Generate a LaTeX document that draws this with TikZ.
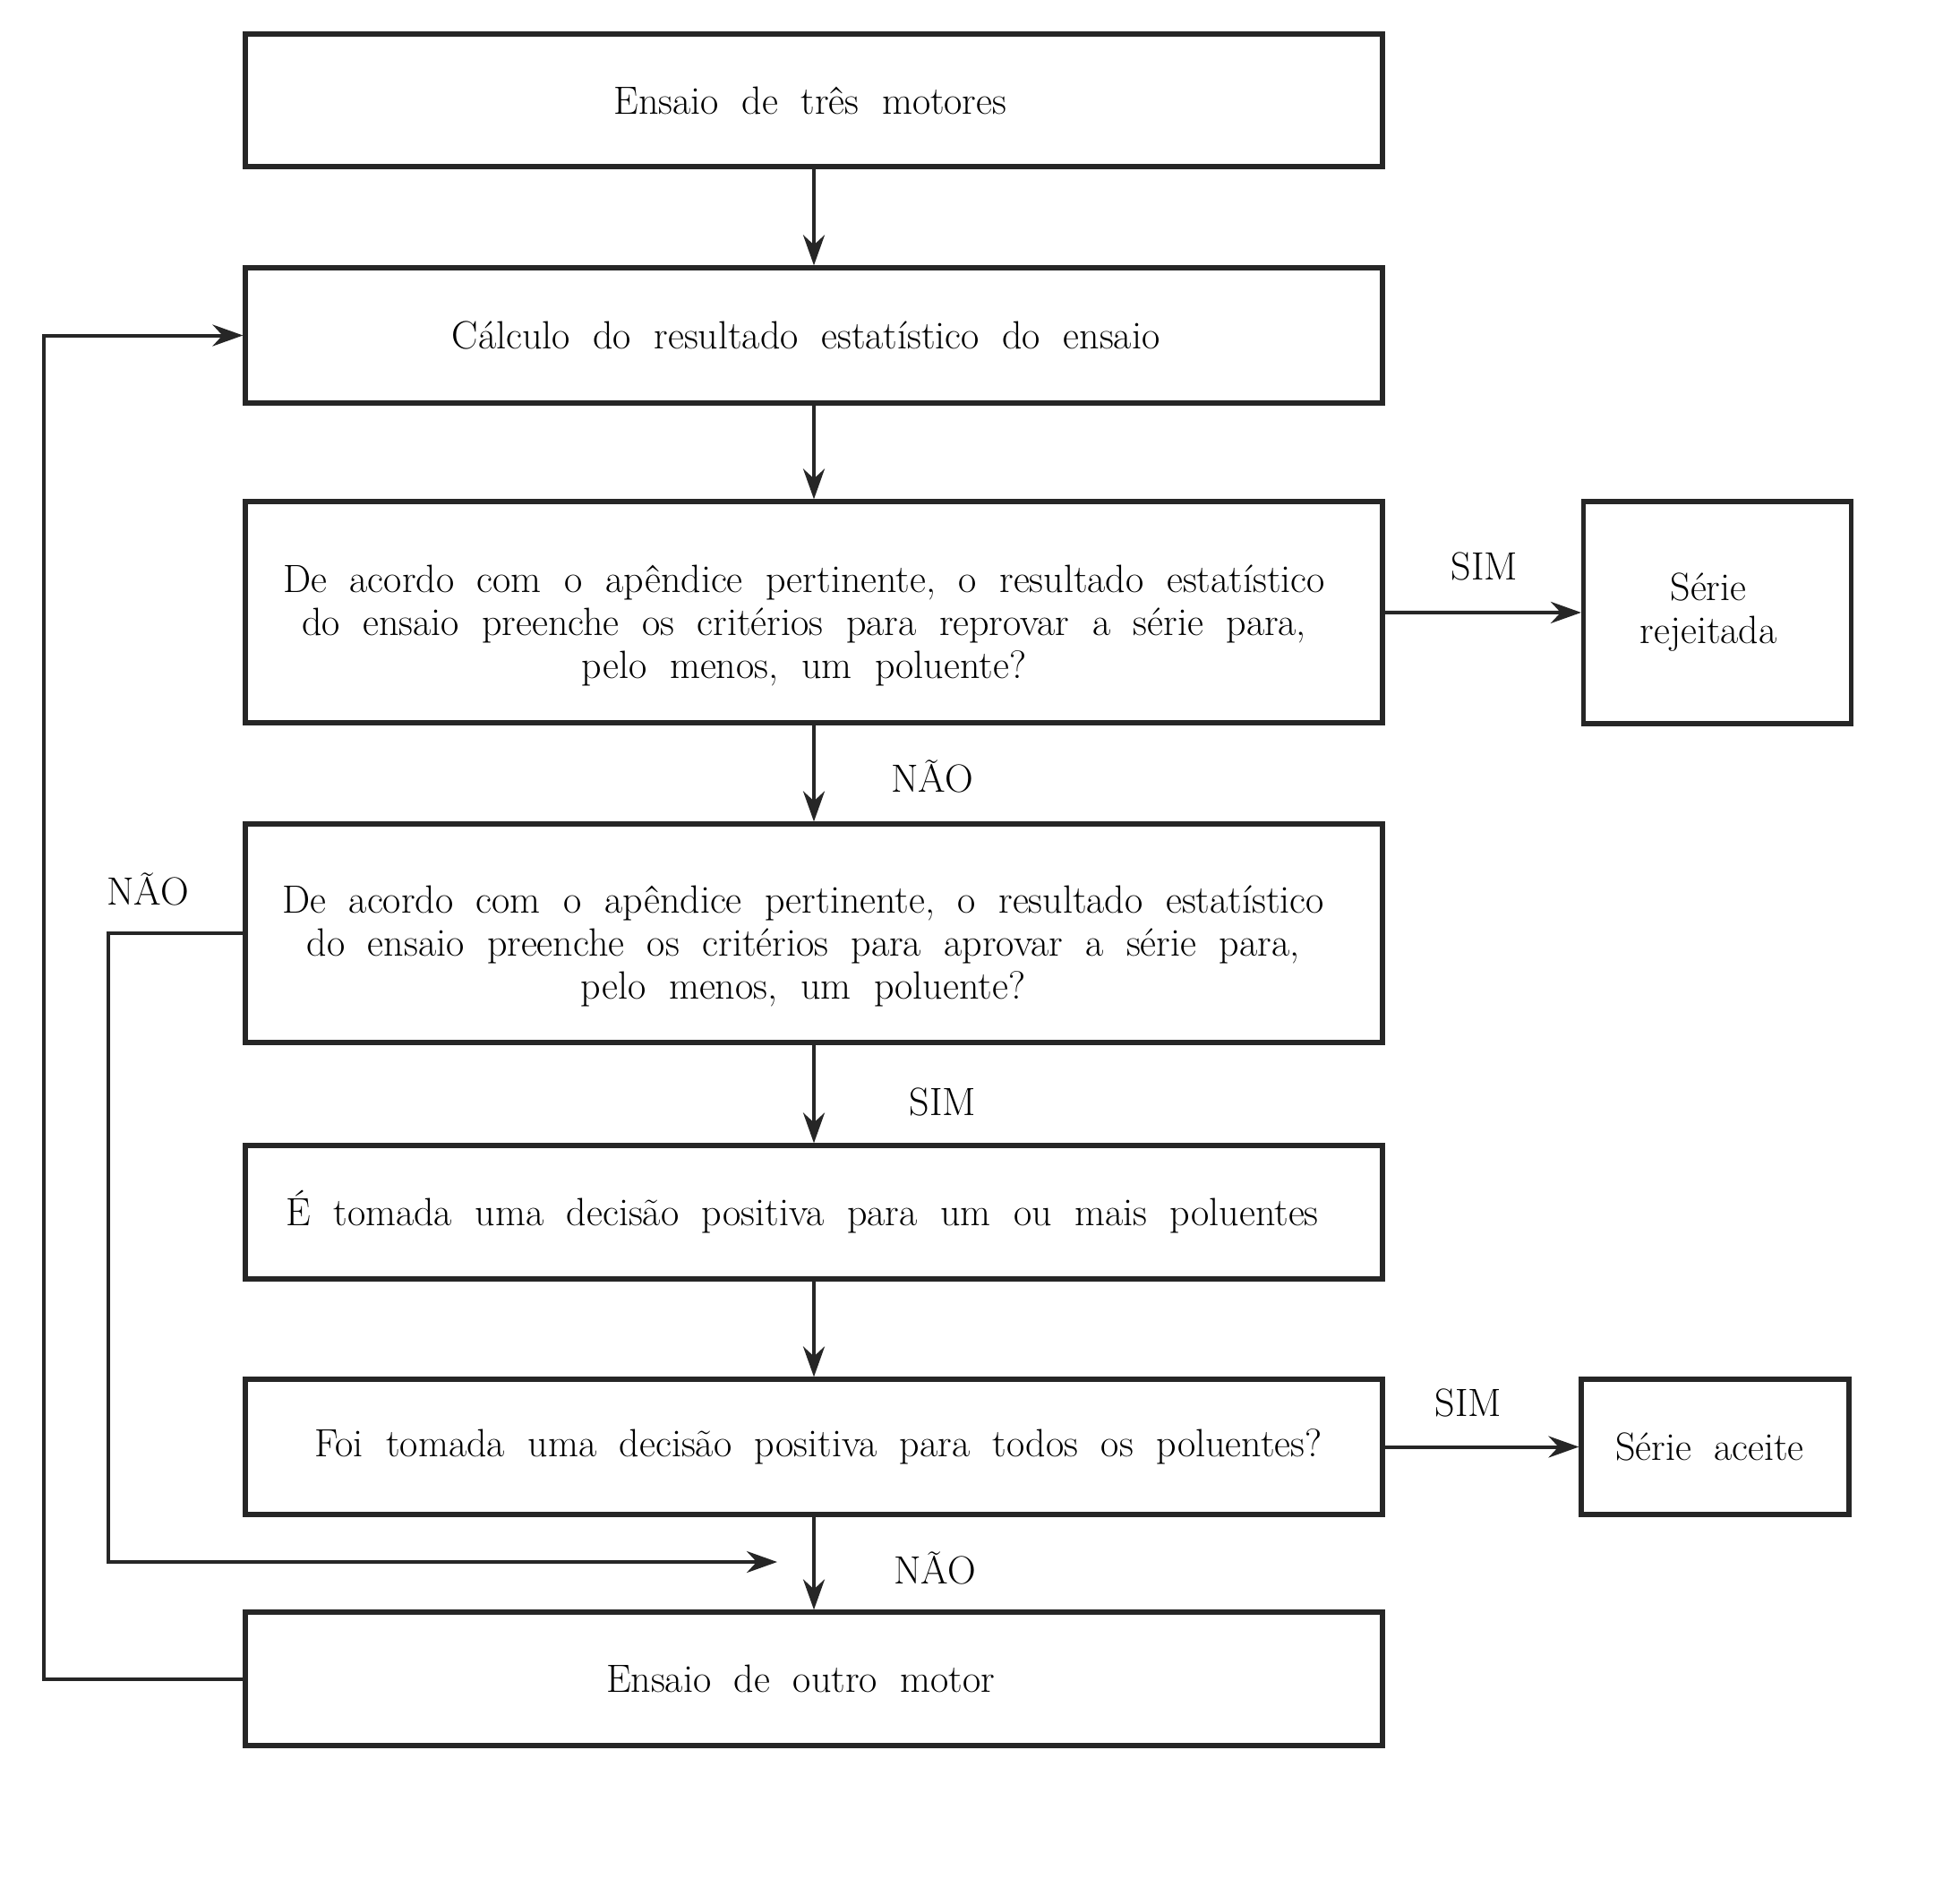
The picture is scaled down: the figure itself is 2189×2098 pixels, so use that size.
\documentclass[tikz,border=0pt]{standalone}
\usepackage{fontspec}
\usetikzlibrary{arrows.meta}
\newcommand{\diagfont}{\fontsize{22}{24}\selectfont}
\newcommand{\widesp}{\spaceskip=12.8pt plus 3pt minus 1pt\relax}
\newcommand{\sh}[1]{\hspace*{#1}}
\begin{document}
\begin{tikzpicture}[x=0.5pt,y=-0.5pt,
  every node/.style={font=\diagfont},
  box/.style={draw=black!85, line width=2.6pt, minimum width=635pt, align=center, inner sep=0pt},
  sidebox/.style={draw=black!85, line width=2.6pt, minimum width=149.5pt, align=center, inner sep=0pt},
  conn/.style={draw=black!85, line width=2pt, -{Stealth[length=17pt,width=12pt]}},
  lbl/.style={inner sep=0pt}]
\fill[white] (0,0) rectangle (2189,2098);
\useasboundingbox (0,0) rectangle (2189,2098);

\node[box, minimum height=74pt] (b1) at (909,112) {\widesp\sh{-4pt}Ensaio de três motores};
\node[box, minimum height=75.5pt] (b2) at (909,374.5) {\widesp\sh{-9pt}Cálculo do resultado estatístico do ensaio};
\node[box, minimum height=123.5pt] (b3) at (909,683.5) {\widesp\sh{-11pt}\rule{0pt}{30pt}De acordo com o apêndice pertinente, o resultado estatístico\\\widesp\sh{-11pt}do ensaio preenche os critérios para reprovar a série para,\\\widesp\sh{-11pt}pelo menos, um poluente?};
\node[sidebox, minimum height=124pt] (rej) at (1918,684) {\sh{-10pt}Série\\\sh{-10pt}rejeitada};
\node[box, minimum height=122pt] (b4) at (909,1042) {\widesp\sh{-12pt}\rule{0pt}{30pt}De acordo com o apêndice pertinente, o resultado estatístico\\\widesp\sh{-12pt}do ensaio preenche os critérios para aprovar a série para,\\\widesp\sh{-12pt}pelo menos, um poluente?};
\node[box, minimum height=74.5pt] (b5) at (909,1353.5) {\widesp\sh{-13pt}É tomada uma decisão positiva para um ou mais poluentes};
\node[box, minimum height=75.5pt] (b6) at (909,1615.5) {\widesp\sh{5pt}Foi tomada uma decisão positiva para todos os poluentes?};
\node[sidebox, minimum height=75.5pt] (acc) at (1915.5,1615.5) {\widesp\sh{-6pt}Série aceite};
\node[box, minimum height=74.5pt] (b7) at (909,1874.5) {\widesp\sh{-15pt}Ensaio de outro motor};

\coordinate (m4) at (868,1744);

\draw[conn] (b1) -- (b2);
\draw[conn] (b2) -- (b3);
\draw[conn] (b3) -- (rej);
\draw[conn] (b3) -- (b4);
\draw[conn] (b4) -- (b5);
\draw[conn] (b5) -- (b6);
\draw[conn] (b6) -- (acc);
\draw[conn] (b6) -- (b7);
\draw[conn] (b7.west) -- (49,1874.5) -- (49,374.5) -- (b2.west);
\draw[conn] (b4.west) -- (121,1042) -- (121,1744) -- (m4);

\node[lbl] (l1) at (1658,632) {SIM};
\node[lbl] (l2) at (1041,867) {NÃO};
\node[lbl] (l3) at (165,993) {NÃO};
\node[lbl] (l4) at (1053,1230) {SIM};
\node[lbl] (l5) at (1640,1566) {SIM};
\node[lbl] (l6) at (1044,1751) {NÃO};
\end{tikzpicture}
\end{document}
